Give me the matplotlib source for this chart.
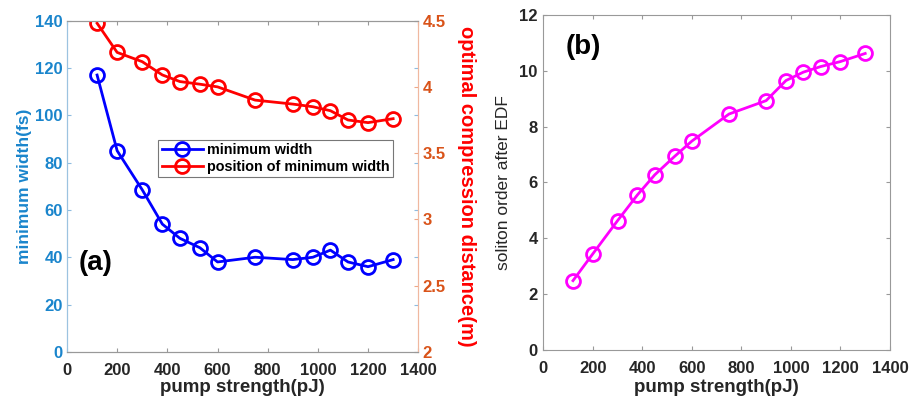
import matplotlib
matplotlib.use("Agg")
import matplotlib.pyplot as plt

plt.rcParams['font.family'] = ['Liberation Sans', 'DejaVu Sans']
plt.rcParams['font.weight'] = 'bold'

pump = [120, 200, 300, 380, 450, 530, 600, 750, 900, 980, 1050, 1120, 1200, 1300]
min_width = [117, 85, 68.5, 54, 48, 44, 38, 40, 39, 40, 43, 38, 36, 39]
position = [4.48, 4.26, 4.19, 4.09, 4.04, 4.02, 4.0, 3.90, 3.87, 3.85, 3.82, 3.75, 3.73, 3.76]
soliton_order = [2.48, 3.44, 4.63, 5.55, 6.27, 6.93, 7.48, 8.45, 8.93, 9.65, 9.95, 10.15, 10.33, 10.62]

xticks = [0, 200, 400, 600, 800, 1000, 1200, 1400]
left_ticks = [0, 20, 40, 60, 80, 100, 120, 140]
right_ticks = [2, 2.5, 3, 3.5, 4, 4.5]
b_ticks = [0, 2, 4, 6, 8, 10, 12]

blue_tick = (0.1, 0.52, 0.8)
orange_axis = (0.85, 0.325, 0.098)
gray = '#262626'

fig = plt.figure(figsize=(9.1, 4.04), dpi=100)
ax1 = fig.add_axes([0.0736, 0.129, 0.386, 0.82])
ax2 = ax1.twinx()

fs = 12
l1, = ax1.plot(pump, min_width, '-o', color='#0000ff', lw=2, ms=10, mfc='none', mew=2,
               label='minimum width')
l2, = ax2.plot(pump, position, '-o', color='#ff0000', lw=2, ms=10, mfc='none', mew=2,
               label='position of minimum width')
ax1.set_xlim(0, 1400)
ax1.set_ylim(0, 140)
ax2.set_ylim(2, 4.5)
ax1.set_xticks(xticks)
ax1.set_yticks(left_ticks)
ax2.set_yticks(right_ticks)
ax2.set_yticklabels(['2', '2.5', '3', '3.5', '4', '4.5'])
ax1.tick_params(axis='x', colors='#999999')
ax1.tick_params(axis='x', labelsize=fs, labelcolor=gray, direction='in', length=3,
                top=True, pad=8)
ax1.tick_params(axis='y', colors='#8fbce0')
ax1.tick_params(axis='y', labelsize=fs, labelcolor=blue_tick, direction='in',
                length=3, right=True, pad=3)
ax2.tick_params(axis='y', colors='#eea888')
ax2.tick_params(axis='y', labelsize=fs, labelcolor=orange_axis, direction='in',
                length=3, pad=3)
for ax in (ax1, ax2):
    ax.spines['top'].set_color('#999999')
    ax.spines['bottom'].set_color('#999999')
    ax.spines['left'].set_color('#9cc3e0')
    ax.spines['right'].set_color('#f0b8a0')
ax1.set_xlabel('pump strength(pJ)', fontsize=13.5, color=gray, fontweight='bold', labelpad=1)
ax1.set_ylabel('minimum width(fs)', fontsize=12.5, color=blue_tick, fontweight='bold', labelpad=2)
ax2.set_ylabel('optimal compression distance(m)', fontsize=14.5, color='#ff0000', fontweight='bold',
               rotation=270, labelpad=22)
ax1.text(48, 37.5, '(a)', fontsize=20, fontweight='bold', color='black', ha='left', va='center')
leg = ax1.legend(handles=[l1, l2], loc='upper left', bbox_to_anchor=(0.259, 0.64), fontsize=10.4,
                 frameon=True, fancybox=False, edgecolor='#555555', borderpad=0.25,
                 handlelength=2.85, handletextpad=0.3, labelspacing=0.15, borderaxespad=0)
leg.get_frame().set_linewidth(0.8)

ax3 = fig.add_axes([0.597, 0.134, 0.381, 0.829])
ax3.plot(pump, soliton_order, '-o', color='#ff00ff', lw=2, ms=10, mfc='none', mew=2)
ax3.set_xlim(0, 1400)
ax3.set_ylim(0, 12)
ax3.set_xticks(xticks)
ax3.set_yticks(b_ticks)
ax3.tick_params(colors='#999999')
ax3.tick_params(axis='x', labelsize=fs, labelcolor=gray, direction='in', length=3,
                top=True, pad=8)
ax3.tick_params(axis='y', labelsize=fs, labelcolor=gray, direction='in', length=3,
                right=True, pad=4)
for s in ax3.spines.values():
    s.set_color('#999999')
ax3.set_xlabel('pump strength(pJ)', fontsize=13.5, color=gray, fontweight='bold', labelpad=2)
ax3.set_ylabel('soliton order after EDF', fontsize=12.5, color=gray, fontweight='normal', labelpad=6)
ax3.text(89, 10.85, '(b)', fontsize=20, fontweight='bold', color='black', ha='left', va='center')

fig.savefig('out.png', dpi=100)
